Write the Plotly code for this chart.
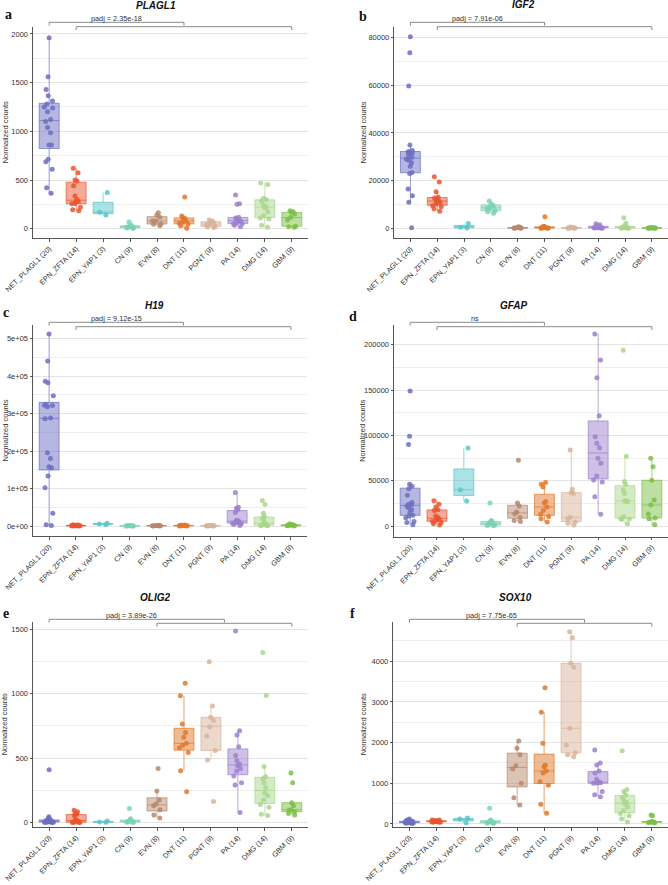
import numpy as np
import plotly.graph_objects as go

W, H = 668, 885

groups = ["NET_PLAGL1 (20)", "EPN_ZFTA (14)", "EPN_YAP1 (3)", "CN (9)", "EVN (8)",
          "DNT (11)", "PGNT (9)", "PA (14)", "DMG (14)", "GBM (9)"]
colors = ["#6b6fc1", "#e8552e", "#57c6cb", "#7ad2b6", "#b7876c",
          "#e0782c", "#d9b39b", "#9c80cc", "#a9d78c", "#7bbf47"]

# ---- data: normalized counts per group (order as in `groups`) ----
plagl1 = [
    [1960, 1560, 1430, 1365, 1310, 1280, 1250, 1240, 1200, 1120, 1100, 1040, 985, 860, 860, 712, 688, 610, 421, 363],
    [620, 575, 500, 490, 440, 335, 300, 285, 280, 260, 255, 220, 195, 185],
    [372, 170, 140],
    [70, 38, 30, 22, 18, 14, 10, 6, 2],
    [165, 140, 118, 80, 78, 50, 45, 30],
    [325, 130, 115, 105, 95, 80, 70, 55, 45, 30, 5],
    [90, 78, 72, 62, 48, 40, 22, 18, 12],
    [345, 255, 250, 118, 110, 100, 85, 80, 78, 60, 52, 50, 35, 20],
    [470, 455, 310, 300, 285, 245, 225, 215, 175, 130, 110, 100, 35, 15],
    [185, 175, 168, 150, 115, 90, 25, 20, 15],
]
igf2 = [
    [80400, 73700, 59700, 35000, 32600, 32100, 32000, 31500, 30500, 29800, 29000, 28500, 27500, 26000, 23400, 23000, 16500, 13700, 10900, 200],
    [21600, 19400, 15300, 13000, 12700, 12000, 11700, 11200, 10800, 10200, 9500, 9000, 8200, 7200],
    [2000, 400, 100],
    [11500, 10000, 9800, 9200, 8600, 8300, 7400, 6900, 6300],
    [600, 400, 300, 200, 150, 100, 50, 20],
    [4800, 900, 700, 500, 400, 300, 200, 150, 100, 50, 20],
    [500, 350, 300, 200, 150, 100, 80, 50, 20],
    [1900, 1500, 1200, 900, 700, 500, 400, 350, 300, 250, 200, 150, 100, 50],
    [4400, 2100, 1200, 900, 700, 500, 400, 300, 250, 200, 150, 100, 80, 50],
    [300, 250, 200, 150, 120, 100, 80, 50, 30],
]
h19 = [
    [512000, 440000, 386000, 382000, 347000, 324000, 322000, 321000, 318000, 288000, 286000, 195000, 180000, 158000, 155000, 133000, 102000, 34000, 3000, 1000],
    [3000, 2500, 2000, 1800, 1500, 1200, 1000, 900, 800, 600, 500, 400, 300, 200],
    [7000, 5500, 3000],
    [1200, 900, 700, 500, 400, 300, 200, 100, 50],
    [1500, 1200, 1000, 800, 600, 400, 300, 200],
    [2500, 2000, 1800, 1500, 1200, 1000, 800, 600, 400, 300, 200],
    [1500, 1200, 1000, 800, 600, 500, 400, 300, 200],
    [89000, 50000, 47000, 43000, 36000, 15000, 14000, 12500, 11000, 9000, 7500, 6000, 4000, 1500],
    [68000, 57000, 34000, 25000, 21000, 18000, 9000, 6000, 5000, 3000, 2000, 1500, 1000, 500],
    [6000, 4000, 3000, 2500, 2000, 1500, 1000, 500, 200],
]
gfap = [
    [149000, 99000, 90000, 46000, 44000, 41000, 34000, 26000, 24000, 23500, 22000, 20000, 18000, 15000, 12000, 11000, 9000, 5000, 4000, 1500],
    [28000, 24000, 21000, 18000, 17000, 11000, 9000, 8000, 7500, 6000, 5000, 4000, 2500, 1000],
    [86000, 40000, 27500],
    [25500, 6000, 5000, 4500, 3000, 2000, 1000, 500, 200],
    [72500, 25500, 22000, 15500, 13500, 9500, 6000, 5000],
    [48000, 46000, 43000, 27000, 25500, 21000, 17000, 13000, 10500, 8000, 4500],
    [84000, 40500, 36800, 36000, 9600, 8000, 4800, 3000, 1000],
    [211900, 183200, 163700, 121700, 98600, 91300, 86400, 74700, 69200, 55200, 50800, 48600, 32300, 12900],
    [194000, 77000, 49000, 46000, 40000, 36000, 27800, 27500, 27000, 10500, 8000, 7800, 7500, 2500],
    [74700, 65500, 50500, 28700, 23200, 13200, 8800, 8000, 1500],
]
olig2 = [
    [410, 45, 35, 30, 25, 20, 18, 15, 12, 10, 10, 8, 7, 6, 5, 4, 3, 2, 1, 0],
    [95, 85, 70, 65, 55, 25, 17, 15, 10, 5, 3, 2, 1, 0],
    [12, 5, 2],
    [110, 30, 20, 15, 10, 8, 5, 3, 1],
    [420, 245, 175, 145, 130, 100, 60, 35],
    [1080, 984, 765, 698, 662, 615, 600, 581, 543, 403, 240],
    [1248, 905, 817, 791, 744, 672, 560, 486, 163],
    [1486, 713, 680, 589, 520, 480, 455, 440, 420, 400, 362, 310, 292, 78],
    [1320, 985, 435, 355, 340, 310, 270, 230, 210, 175, 140, 120, 65, 55],
    [385, 310, 155, 130, 100, 95, 85, 70, 60],
]
sox10 = [
    [120, 100, 90, 80, 70, 65, 60, 55, 52, 50, 48, 45, 42, 40, 35, 30, 28, 25, 20, 15],
    [100, 95, 85, 80, 75, 70, 68, 65, 62, 60, 55, 50, 45, 40],
    [150, 120, 30],
    [386, 100, 80, 60, 50, 40, 30, 20, 10],
    [2039, 1860, 1700, 1430, 1350, 1000, 646, 467],
    [3349, 2744, 1983, 1450, 1400, 1302, 1250, 1040, 950, 484, 263],
    [4725, 4578, 3948, 3850, 2351, 1941, 1750, 1700, 1650],
    [1818, 1500, 1450, 1300, 1250, 1100, 1030, 1020, 1015, 1010, 1000, 800, 720, 671],
    [1800, 850, 800, 720, 650, 580, 530, 490, 420, 330, 260, 200, 120, 50],
    [220, 200, 60, 55, 50, 45, 40, 35, 25],
]

# tick labels for the y axes
ticks_plagl1 = [0, 500, 1000, 1500, 2000]
ticks_igf2 = [0, 20000, 40000, 60000, 80000]
ticks_h19 = [0, 100000, 200000, 300000, 400000, 500000]
ticktext_h19 = ["0e+00", "1e+05", "2e+05", "3e+05", "4e+05", "5e+05"]
ticks_gfap = [0, 50000, 100000, 150000, 200000]
ticks_olig2 = [0, 500, 1000, 1500]
ticks_sox10 = [0, 1000, 2000, 3000, 4000]

pvals = ["padj = 2.35e-18", "padj = 7.91e-06", "padj = 9.12e-15", "ns",
         "padj = 3.89e-26", "padj = 7.75e-65"]

# ---- layout of panels (pixels) ----
panels = [
    dict(lab="a", gene="PLAGL1", data=plagl1, box=(33, 308, 26.7, 238), yr=[-95.5, 2074],
         tv=ticks_plagl1, tt=None, step=500, title_xy=(155.5, 5.5), lab_xy=(8.5, 15), ytitle_x=5,
         br=(0, 5, 1, 9), ptx=2.5, by=(22.3, 26.7, 18.5)),
    dict(lab="b", gene="IGF2", data=igf2, box=(394.3, 668, 26.7, 238.3), yr=[-4200, 84600],
         tv=ticks_igf2, tt=None, step=20000, title_xy=(523.7, 4.5), lab_xy=(362.5, 16.5), ytitle_x=363,
         br=(0, 5, 1, 9), ptx=2.5, by=(22.3, 26.7, 18.5)),
    dict(lab="c", gene="H19", data=h19, box=(33, 307, 325, 536), yr=[-26667, 536000],
         tv=ticks_h19, tt=ticktext_h19, step=100000, title_xy=(154.3, 305), lab_xy=(6, 312), ytitle_x=5,
         br=(0, 5, 1, 9), ptx=2.5, by=(322.3, 326.7, 318.5)),
    dict(lab="d", gene="GFAP", data=gfap, box=(394, 668, 325, 536.7), yr=[-11800, 221800],
         tv=ticks_gfap, tt=None, step=50000, title_xy=(513.8, 305), lab_xy=(352.5, 316), ytitle_x=363,
         br=(0, 5, 1, 9), ptx=2.4, by=(322.3, 326.7, 318.5)),
    dict(lab="e", gene="OLIG2", data=olig2, box=(33, 308, 621.7, 827), yr=[-34, 1558],
         tv=ticks_olig2, tt=None, step=500, title_xy=(155, 597), lab_xy=(6, 613.5), ytitle_x=4,
         br=(0, 6.5, 4, 9), ptx=3.05, by=(619.3, 623.3, 615.5)),
    dict(lab="f", gene="SOX10", data=sox10, box=(393.3, 668, 621.7, 827), yr=[-74, 4970],
         tv=ticks_sox10, tt=None, step=1000, title_xy=(515, 597), lab_xy=(352.5, 613.5), ytitle_x=363,
         br=(0, 6.5, 4, 9), ptx=3.05, by=(619.3, 623.3, 615.5)),
]


def rgba(hexc, a):
    h = hexc.lstrip("#")
    r, g, b = int(h[0:2], 16), int(h[2:4], 16), int(h[4:6], 16)
    return f"rgba({r},{g},{b},{a})"


def stats(v):
    v = np.asarray(v, dtype=float)
    q1, med, q3 = np.percentile(v, [25, 50, 75])
    iqr = q3 - q1
    lf = v[v >= q1 - 1.5 * iqr].min()
    uf = v[v <= q3 + 1.5 * iqr].max()
    return q1, med, q3, lf, uf


fig = go.Figure()
layout = dict(width=W, height=H, margin=dict(l=0, r=0, t=0, b=0, autoexpand=False),
              paper_bgcolor="white", plot_bgcolor="white", showlegend=False,
              font=dict(family="Liberation Sans, Arial, sans-serif", color="#333"))
shapes, annotations = [], []

FONT = "Liberation Sans, Arial, sans-serif"

for n, p in enumerate(panels, start=1):
    xs = "x" if n == 1 else f"x{n}"
    ys = "y" if n == 1 else f"y{n}"
    x0, x1, y0, y1 = p["box"]
    for gi, g in enumerate(groups):
        vals = p["data"][gi]
        q1, med, q3, lf, uf = stats(vals)
        c = colors[gi]
        fig.add_trace(go.Box(
            x=[g], y=[vals], q1=[q1], median=[med], q3=[q3],
            lowerfence=[lf], upperfence=[uf],
            boxpoints="all", jitter=0.55, pointpos=0, width=0.74, whiskerwidth=0,
            fillcolor=rgba(c, 0.5), line=dict(color=rgba(c, 0.7), width=1),
            marker=dict(color=rgba(c, 0.85), size=5, line=dict(width=0)),
            xaxis=xs, yaxis=ys, hoverinfo="skip", showlegend=False))

    step = p["step"]
    minor_vals = [t + step / 2 for t in p["tv"]]
    minor_vals = [m for m in minor_vals if m < p["yr"][1]]
    xkey = "xaxis" if n == 1 else f"xaxis{n}"
    ykey = "yaxis" if n == 1 else f"yaxis{n}"
    layout[xkey] = dict(
        domain=[x0 / W, x1 / W], anchor=ys, type="category", automargin=False,
        categoryorder="array", categoryarray=groups, range=[-0.6, 9.6],
        tickangle=-45, tickfont=dict(size=7.3, color="#333", family=FONT),
        showline=True, linecolor="#555", linewidth=1, ticks="outside", ticklen=2.5,
        tickcolor="#555", showgrid=False, zeroline=False)
    ydict = dict(
        domain=[1 - y1 / H, 1 - y0 / H], anchor=xs, range=p["yr"], automargin=False,
        tickmode="array", tickvals=p["tv"],
        tickfont=dict(size=7.5, color="#333", family=FONT),
        showline=True, linecolor="#555", linewidth=1, ticks="outside", ticklen=2.5,
        tickcolor="#555", showgrid=True, gridcolor="#e4e4e4", gridwidth=1.2,
        zeroline=False,
        minor=dict(tickmode="array", tickvals=minor_vals, showgrid=True,
                   gridcolor="#eeeeee", gridwidth=0.8, ticks=""))
    if p["tt"] is not None:
        ydict["ticktext"] = p["tt"]
    else:
        ydict["tickformat"] = "d"
    layout[ykey] = ydict

    # titles and labels
    tx, ty = p["title_xy"]
    annotations.append(dict(text=f"<b><i>{p['gene']}</i></b>", x=tx / W, y=1 - ty / H,
                            xref="paper", yref="paper", showarrow=False,
                            font=dict(size=10, color="#111", family=FONT),
                            xanchor="center", yanchor="middle"))
    lx, ly = p["lab_xy"]
    annotations.append(dict(text=f"<b>{p['lab']}</b>", x=lx / W, y=1 - ly / H,
                            xref="paper", yref="paper", showarrow=False,
                            font=dict(size=14, color="#111", family="Liberation Serif, Times New Roman, serif"),
                            xanchor="center", yanchor="middle"))
    annotations.append(dict(text="Normalized counts", x=p["ytitle_x"] / W,
                            y=1 - ((y0 + y1) / 2) / H, xref="paper", yref="paper",
                            showarrow=False, textangle=-90,
                            font=dict(size=7.5, color="#333", family=FONT),
                            xanchor="center", yanchor="middle"))
    # significance brackets
    a0, a1, b0, b1 = p["br"]
    ytop, ysec, ytxt = p["by"]
    drop = 3.3
    for (u0, u1, yy) in [(a0, a1, ytop), (b0, b1, ysec)]:
        for (xa, ya, xb, yb) in [(u0, yy, u1, yy), (u0, yy, u0, yy + drop), (u1, yy, u1, yy + drop)]:
            shapes.append(dict(type="line", xref=xs, yref="paper",
                               x0=xa, x1=xb, y0=1 - ya / H, y1=1 - yb / H,
                               line=dict(color="#8a8a8a", width=1)))
    annotations.append(dict(text=pvals[n - 1], x=p["ptx"], y=1 - ytxt / H,
                            xref=xs, yref="paper", showarrow=False,
                            font=dict(size=7.3, color="#333", family=FONT),
                            xanchor="center", yanchor="middle"))

layout["shapes"] = shapes
layout["annotations"] = annotations
fig.update_layout(**layout)
fig.write_html("out.html", config={"displayModeBar": False},
               post_script="document.body.style.margin='0';document.body.style.overflow='hidden';")
